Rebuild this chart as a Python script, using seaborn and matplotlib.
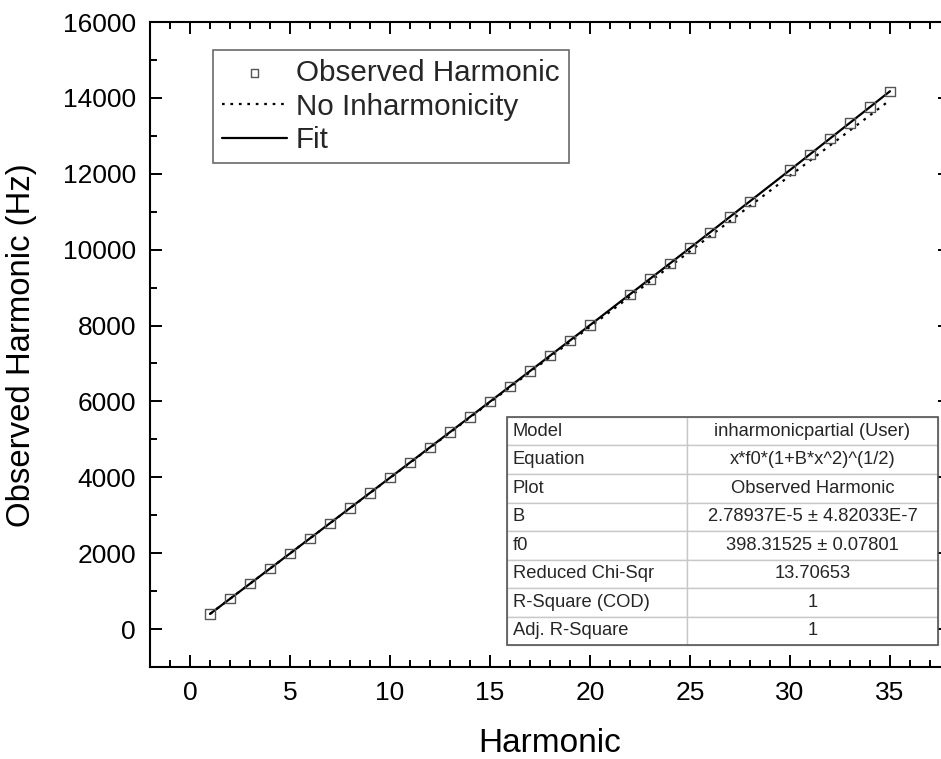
import matplotlib
matplotlib.use("Agg")
import matplotlib.pyplot as plt
import seaborn as sns
from matplotlib.ticker import MultipleLocator
from matplotlib.patches import Rectangle

# observed partials (harmonics 21 and 29 were not measured)
harmonic = [1, 2, 3, 4, 5, 6, 7, 8, 9, 10, 11, 12, 13, 14, 15, 16, 17, 18, 19, 20,
            22, 23, 24, 25, 26, 27, 28, 30, 31, 32, 33, 34, 35]
observed_hz = [398.3, 796.7, 1195.1, 1593.6, 1992.3, 2391.1, 2790.1, 3189.3, 3588.9, 3988.7,
               4388.9, 4789.4, 5190.3, 5591.6, 5993.4, 6395.7, 6798.6, 7202.0, 7606.0, 8010.6,
               8821.8, 9228.5, 9636.0, 10044.3, 10453.3, 10863.2, 11273.9,
               12098.5, 12511.9, 12926.4, 13341.9, 13758.4, 14175.0]

# fitted curve and the ideal (no inharmonicity) line
fit_harmonic = [1, 5, 10, 15, 20, 25, 30, 35]
fit_hz = [398.3, 1992.3, 3988.7, 5993.4, 8010.6, 10044.3, 12098.5, 14175.0]
ideal_harmonic = [1, 35]
ideal_hz = [398.3, 13941.0]

table_rows = [
    ["Model", "inharmonicpartial (User)"],
    ["Equation", "x*f0*(1+B*x^2)^(1/2)"],
    ["Plot", "Observed Harmonic"],
    ["B", "2.78937E-5 \u00b1 4.82033E-7"],
    ["f0", "398.31525 \u00b1 0.07801"],
    ["Reduced Chi-Sqr", "13.70653"],
    ["R-Square (COD)", "1"],
    ["Adj. R-Square", "1"],
]

sns.set_theme(style="ticks")
plt.rcParams["font.family"] = ["Liberation Sans", "DejaVu Sans"]

fig = plt.figure(figsize=(9.41, 7.59), dpi=100)
ax = fig.add_axes([150 / 941, 1 - 667 / 759, 800 / 941, 645 / 759])

sns.scatterplot(x=harmonic, y=observed_hz, marker="s", s=45, facecolor="none",
                edgecolor="#555555", linewidth=1.0, ax=ax, label="Observed Harmonic", zorder=3)
sns.lineplot(x=ideal_harmonic, y=ideal_hz, color="black", linestyle=(0, (1.2, 2.6)),
             linewidth=1.6, ax=ax, label="No Inharmonicity")
sns.lineplot(x=fit_harmonic, y=fit_hz, color="black", linewidth=1.6, ax=ax, label="Fit")

ax.set_xlim(-2, 38)
ax.set_ylim(-1000, 16000)
ax.set_xticks(range(0, 36, 5))
ax.set_yticks(range(0, 16001, 2000))
ax.xaxis.set_minor_locator(MultipleLocator(1))
ax.yaxis.set_minor_locator(MultipleLocator(1000))
ax.tick_params(which="both", direction="in", top=True, right=True, width=1.4, color="black")
ax.tick_params(which="major", length=8.5, labelsize=19, pad=10, labelcolor="black")
ax.tick_params(which="minor", length=5)
for sp in ax.spines.values():
    sp.set_linewidth(1.5)
    sp.set_color("black")

ax.set_xlabel("Harmonic", fontsize=24, color="black")
ax.set_ylabel("Observed Harmonic (Hz)", fontsize=23.7, color="black")
ax.xaxis.set_label_coords(0.5, -0.095)
ax.yaxis.set_label_coords(-0.141, 0.499)

leg = ax.legend(loc="upper left", bbox_to_anchor=(0.079, 0.957), borderaxespad=0,
                fontsize=21.3, frameon=True, fancybox=False, edgecolor="#444444",
                handlelength=2.2, handletextpad=0.3, borderpad=0.3, labelspacing=0.2,
                markerscale=0.8)
leg.get_frame().set_linewidth(1.2)

# fit results table
tx0, ty0, tw, th = 0.446, 0.0341, 0.539, 0.3535
tab = ax.table(cellText=table_rows, bbox=[tx0, ty0, tw, th], colWidths=[180, 251])
tab.auto_set_font_size(False)
tab.set_fontsize(13.2)
for (r, c), cell in tab.get_celld().items():
    cell.set_edgecolor("#c8c8c8")
    cell.set_linewidth(1.0)
    cell.set_facecolor("white")
    if c == 0:
        cell.set_text_props(ha="left")
        cell.PAD = 0.033
    else:
        cell.set_text_props(ha="center")
ax.add_patch(Rectangle((tx0, ty0), tw, th, transform=ax.transAxes, fill=False,
                       edgecolor="#555555", linewidth=1.2, zorder=10, clip_on=False))

fig.savefig("out.png", dpi=100)
